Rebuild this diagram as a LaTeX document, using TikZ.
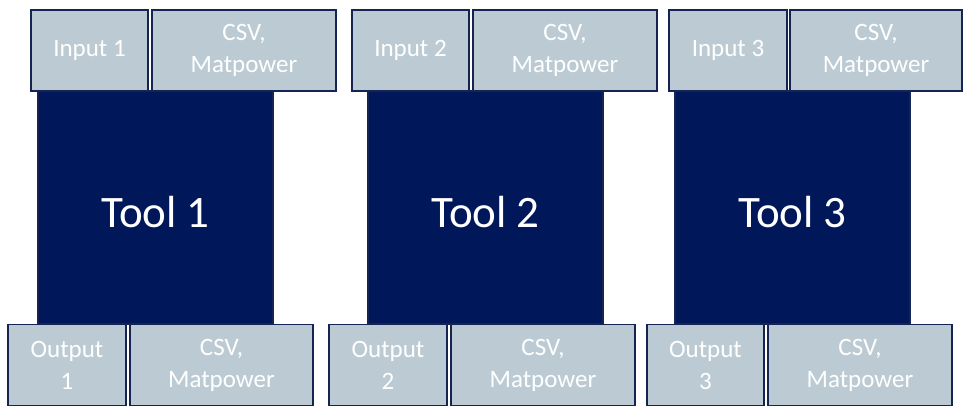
\documentclass[tikz,border=0pt]{standalone}
\usepackage{fontspec}
\setmainfont{Carlito}
\usepackage{xcolor}
\usepackage{tikz}
\usetikzlibrary{positioning}

\definecolor{navyfill}{RGB}{0,23,90}
\definecolor{navyline}{RGB}{22,36,84}
\definecolor{greyblue}{RGB}{188,203,211}

\begin{document}
\begin{tikzpicture}[x=1pt, y=-1pt,
    toolblock/.style={rectangle, draw=navyline, fill=navyfill, line width=1.2pt, inner sep=0pt, minimum width=235pt, minimum height=233pt, text height=40pt, text depth=0pt, text=white, font=\fontsize{45}{54}\selectfont},
    ioblock/.style={rectangle, draw=navyline, fill=greyblue, line width=1.5pt, inner sep=0pt, minimum height=81pt, text=white, align=center, font=\fontsize{25}{32}\selectfont}]
    \useasboundingbox (0,0) rectangle (964,406);

    % Tool 1
    \node[toolblock] (tool1) at (155.5,207.5) {Tool 1};
    \node[ioblock, minimum width=117pt] (in1) at (89.5,50.5) {Input 1};
    \node[ioblock, minimum width=184pt] (csvin1) at (244,50.5) {CSV,\\Matpower};
    \node[ioblock, minimum width=118pt] (out1) at (67,365) {Output\\1};
    \node[ioblock, minimum width=183pt] (csvout1) at (221.5,365) {CSV,\\Matpower};

    % Tool 2
    \node[toolblock] (tool2) at (485.5,207.5) {Tool 2};
    \node[ioblock, minimum width=117pt] (in2) at (410.5,50.5) {Input 2};
    \node[ioblock, minimum width=184pt] (csvin2) at (565,50.5) {CSV,\\Matpower};
    \node[ioblock, minimum width=118pt] (out2) at (388,365) {Output\\2};
    \node[ioblock, minimum width=184pt] (csvout2) at (543,365) {CSV,\\Matpower};

    % Tool 3
    \node[toolblock] (tool3) at (792.5,207.5) {Tool 3};
    \node[ioblock, minimum width=118pt] (in3) at (728,50.5) {Input 3};
    \node[ioblock, minimum width=172pt] (csvin3) at (876,50.5) {CSV,\\Matpower};
    \node[ioblock, minimum width=117pt] (out3) at (705.5,365) {Output\\3};
    \node[ioblock, minimum width=184pt] (csvout3) at (860,365) {CSV,\\Matpower};
\end{tikzpicture}
\end{document}
